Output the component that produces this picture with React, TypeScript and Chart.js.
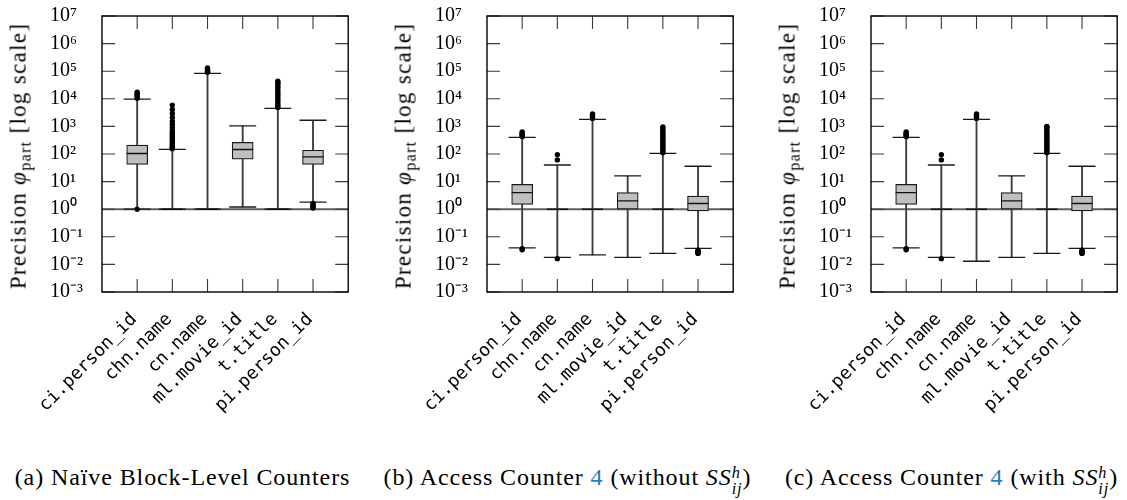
import React, { useEffect, useRef } from "react";
import { Chart, registerables } from "chart.js";

Chart.register(...registerables);

// ---------- data ----------
const CATEGORIES = ["ci.person_id", "chn.name", "cn.name", "ml.movie_id", "t.title", "pi.person_id"];
const Y_TICKS = [1e-3, 1e-2, 1e-1, 1, 1e1, 1e2, 1e3, 1e4, 1e5, 1e6, 1e7];
const Y_MIN = 1e-3;
const Y_MAX = 1e7;
const X_MIN = 0;
const X_MAX = 7;
const BASELINE = 1;

// (a) Naive block-level counters
const A_LOW = [1, 1, 1, 1.2, 1, 1.8];
const A_Q1 = [42, 1, 1, 65, 1, 42];
const A_MED = [104, 1, 1, 145, 1, 79];
const A_Q3 = [209, 1, 1, 262, 1, 137];
const A_HIGH = [9700, 148, 83000, 1050, 4500, 1670];
const A_OUTLIERS = [
  [1, 10500, 12000, 13500, 15500, 17500],
  [155, 165, 180, 200, 230, 260, 300, 340, 390, 450, 520, 600, 710, 910, 1200, 1550, 2100, 2950, 4100, 5900],
  [92000, 100000, 110000, 120000, 130000],
  [],
  [4800, 5400, 6500, 7800, 9300, 11000, 13400, 16000, 19000, 23000, 27500, 33000, 39000, 43000],
  [1.1, 1.2, 1.3, 1.45, 1.6],
];

// (b) Access counter without SS
const B_LOW = [0.04, 0.018, 0.022, 0.018, 0.025, 0.038];
const B_Q1 = [1.5, 1, 1, 1, 1, 0.87];
const B_MED = [4.0, 1, 1, 2.0, 1, 1.6];
const B_Q3 = [7.9, 1, 1, 4.0, 1, 3.0];
const B_HIGH = [400, 40, 1800, 16, 105, 36];
const B_OUTLIERS = [
  [420, 460, 510, 570, 630, 0.037, 0.034],
  [61, 95, 0.016],
  [1950, 2200, 2500, 2800],
  [],
  [110, 125, 145, 165, 190, 220, 255, 295, 340, 390, 450, 520, 600, 700, 820, 960],
  [0.033, 0.03, 0.028, 0.026, 0.025],
];

// (c) Access counter with SS
const C_LOW = [0.04, 0.018, 0.013, 0.018, 0.025, 0.038];
const C_Q1 = [1.5, 1, 1, 1, 1, 0.87];
const C_MED = [4.0, 1, 1, 2.0, 1, 1.6];
const C_Q3 = [7.9, 1, 1, 4.0, 1, 3.0];
const C_HIGH = [400, 40, 1800, 16, 105, 36];
const C_OUTLIERS = [
  [420, 460, 510, 570, 630, 0.037, 0.034],
  [61, 95, 0.016],
  [1950, 2200, 2500, 2800],
  [],
  [110, 125, 145, 165, 190, 220, 255, 295, 340, 390, 450, 520, 600, 700, 820, 960, 1000],
  [0.033, 0.03, 0.028, 0.026, 0.025],
];

// ---------- layout ----------
const PLOT_TOP = 16;
const PLOT_BOTTOM = 292;
const PLOT_W = 255;
const CANVAS_PAD_LEFT = 48;
const Y_AXIS_W = 52;
const CANVAS_H = 440;
const X_AXIS_H = CANVAS_H - PLOT_BOTTOM;
const TICK_LEN = 13;
const SERIF = '"Liberation Serif", "Times New Roman", serif';

const SUP: Record<string, string> = {
  "-": "\u207B", "0": "\u2070", "1": "\u00B9", "2": "\u00B2", "3": "\u00B3",
  "4": "\u2074", "5": "\u2075", "6": "\u2076", "7": "\u2077", "8": "\u2078", "9": "\u2079",
};
const pow10Label = (v: number) =>
  "10" + String(Math.round(Math.log10(v))).split("").map((c) => SUP[c]).join("");

const frameTicks = {
  id: "frameTicks",
  afterDraw(chart: any) {
    const { ctx, chartArea: a, scales } = chart;
    ctx.save();
    ctx.strokeStyle = "#3a3a3a";
    ctx.lineWidth = 1.1;
    ctx.beginPath();
    scales.x.ticks.forEach((t: any) => {
      const px = scales.x.getPixelForValue(t.value);
      ctx.moveTo(px, a.bottom);
      ctx.lineTo(px, a.bottom - TICK_LEN);
      ctx.moveTo(px, a.top);
      ctx.lineTo(px, a.top + TICK_LEN);
    });
    scales.y.ticks.forEach((t: any) => {
      const py = scales.y.getPixelForValue(t.value);
      ctx.moveTo(a.left, py);
      ctx.lineTo(a.left + TICK_LEN, py);
      ctx.moveTo(a.right, py);
      ctx.lineTo(a.right - TICK_LEN, py);
    });
    ctx.stroke();
    ctx.strokeStyle = "#000";
    ctx.lineWidth = 1.4;
    ctx.strokeRect(a.left, a.top, a.right - a.left, a.bottom - a.top);
    ctx.restore();
  },
};

type PanelProps = {
  low: number[];
  q1: number[];
  med: number[];
  q3: number[];
  high: number[];
  outliers: number[][];
  plotLeft: number;
  caption: React.ReactNode;
};

function BoxPanel(p: PanelProps) {
  const ref = useRef<HTMLCanvasElement>(null);
  const canvasLeft = p.plotLeft - CANVAS_PAD_LEFT - Y_AXIS_W;
  const canvasW = CANVAS_PAD_LEFT + Y_AXIS_W + PLOT_W + 6;

  useEffect(() => {
    if (!ref.current) return;
    const xs = CATEGORIES.map((_, i) => i + 1);
    const caps: any[] = [];
    xs.forEach((x, i) => {
      caps.push({ x, y: p.low[i] });
      caps.push({ x, y: p.high[i] });
    });
    const outl: any[] = [];
    xs.forEach((x, i) => p.outliers[i].forEach((y) => outl.push({ x, y })));

    const chart = new Chart(ref.current, {
      type: "scatter",
      data: {
        datasets: [
          {
            type: "line",
            data: [{ x: X_MIN, y: BASELINE }, { x: X_MAX, y: BASELINE }],
            borderColor: "#5e5e5e",
            borderWidth: 2,
            pointRadius: 0,
            order: 10,
          } as any,
          {
            type: "bar",
            data: xs.map((x, i) => ({ x, y: [p.low[i], p.high[i]] })),
            backgroundColor: "#3c3c3c",
            barThickness: 1.2,
            maxBarThickness: 1.2,
            grouped: false,
            order: 9,
          } as any,
          {
            type: "bar",
            data: xs.map((x, i) => ({ x, y: [p.q1[i], p.q3[i]] })),
            backgroundColor: "#bfbfbf",
            borderColor: "#1a1a1a",
            borderWidth: 1.2,
            borderSkipped: false,
            barThickness: 21,
            maxBarThickness: 21,
            grouped: false,
            order: 8,
          } as any,
          {
            type: "scatter",
            data: caps,
            pointStyle: "line",
            radius: 13.5,
            borderColor: "#1a1a1a",
            borderWidth: 1.3,
            order: 7,
          } as any,
          {
            type: "scatter",
            data: xs.map((x, i) => ({ x, y: p.med[i] })),
            pointStyle: "line",
            radius: 10.5,
            borderColor: "#111",
            borderWidth: 1.4,
            order: 6,
          } as any,
          {
            type: "scatter",
            data: outl,
            pointStyle: "circle",
            radius: 2.7,
            backgroundColor: "#000",
            borderColor: "#000",
            borderWidth: 0,
            order: 5,
          } as any,
        ],
      },
      options: {
        responsive: false,
        animation: false,
        devicePixelRatio: 1,
        events: [],
        layout: { padding: { left: CANVAS_PAD_LEFT, top: PLOT_TOP, right: 6, bottom: 0 } },
        plugins: { legend: { display: false }, tooltip: { enabled: false }, title: { display: false } },
        scales: {
          x: {
            type: "linear",
            min: X_MIN,
            max: X_MAX,
            offset: false,
            grid: { display: false, drawTicks: false },
            border: { display: false },
            afterBuildTicks: (axis: any) => {
              axis.ticks = xs.map((v) => ({ value: v }));
            },
            afterFit: (s: any) => {
              s.height = X_AXIS_H;
            },
            ticks: {
              autoSkip: false,
              minRotation: 45,
              maxRotation: 45,
              padding: 17,
              labelOffset: -3,
              color: "#000",
              font: { family: '"DejaVu Sans Mono", monospace', size: 18 },
              callback: (v: any) => CATEGORIES[Math.round(Number(v)) - 1] ?? "",
            },
          },
          y: {
            type: "logarithmic",
            min: Y_MIN,
            max: Y_MAX,
            grid: { display: false, drawTicks: false },
            border: { display: false },
            afterBuildTicks: (axis: any) => {
              axis.ticks = Y_TICKS.map((v) => ({ value: v }));
            },
            afterFit: (s: any) => {
              s.width = Y_AXIS_W;
            },
            ticks: {
              autoSkip: false,
              crossAlign: "far",
              padding: 0,
              color: "#000",
              font: { family: SERIF, size: 20 },
              callback: (v: any) => pow10Label(Number(v)),
            },
          },
        },
      } as any,
      plugins: [frameTicks],
    });
    return () => chart.destroy();
  }, []);

  const titleCx = p.plotLeft - 80;
  const captionCx = p.plotLeft - 94 + (PLOT_W + 94) / 2;

  return (
    <>
      <canvas
        ref={ref}
        width={canvasW}
        height={CANVAS_H}
        style={{ position: "absolute", left: canvasLeft, top: 0, width: canvasW, height: CANVAS_H }}
      />
      <div
        style={{
          position: "absolute",
          left: titleCx,
          top: (PLOT_TOP + PLOT_BOTTOM) / 2 + 2,
          transform: "translate(-50%, -50%) rotate(-90deg)",
          whiteSpace: "nowrap",
          fontFamily: SERIF,
          fontWeight: 400,
          fontSize: 23,
          letterSpacing: 1.3,
          lineHeight: "24px",
          color: "#000",
        }}
      >
        Precision <i>φ</i>
        <sub style={{ fontSize: "0.7em", verticalAlign: "-0.3em" }}>part</sub> [log scale]
      </div>
      <div
        style={{
          position: "absolute",
          left: captionCx,
          top: 464,
          transform: "translateX(-50%)",
          whiteSpace: "nowrap",
          fontFamily: SERIF,
          fontSize: 24,
          letterSpacing: 0.9,
          lineHeight: "27px",
          color: "#000",
        }}
      >
        {p.caption}
      </div>
    </>
  );
}

const SSij = () => (
  <>
    <i>SS</i>
    <span
      style={{
        display: "inline-block",
        verticalAlign: "-0.55em",
        fontSize: "0.68em",
        lineHeight: "0.95",
        textAlign: "left",
      }}
    >
      <i>h</i>
      <br />
      <i>ij</i>
    </span>
  </>
);

export default function App() {
  return (
    <div
      style={{
        position: "absolute",
        left: 0,
        top: 0,
        width: 1127,
        height: 500,
        overflow: "hidden",
        background: "#fff",
      }}
    >
      <BoxPanel
        low={A_LOW}
        q1={A_Q1}
        med={A_MED}
        q3={A_Q3}
        high={A_HIGH}
        outliers={A_OUTLIERS}
        plotLeft={102}
        caption={<>(a) Naïve Block-Level Counters</>}
      />
      <BoxPanel
        low={B_LOW}
        q1={B_Q1}
        med={B_MED}
        q3={B_Q3}
        high={B_HIGH}
        outliers={B_OUTLIERS}
        plotLeft={487}
        caption={
          <>
            (b) Access Counter <span style={{ color: "#2b7bc4" }}>4</span> (without <SSij />)
          </>
        }
      />
      <BoxPanel
        low={C_LOW}
        q1={C_Q1}
        med={C_MED}
        q3={C_Q3}
        high={C_HIGH}
        outliers={C_OUTLIERS}
        plotLeft={871}
        caption={
          <>
            (c) Access Counter <span style={{ color: "#2b7bc4" }}>4</span> (with <SSij />)
          </>
        }
      />
    </div>
  );
}
